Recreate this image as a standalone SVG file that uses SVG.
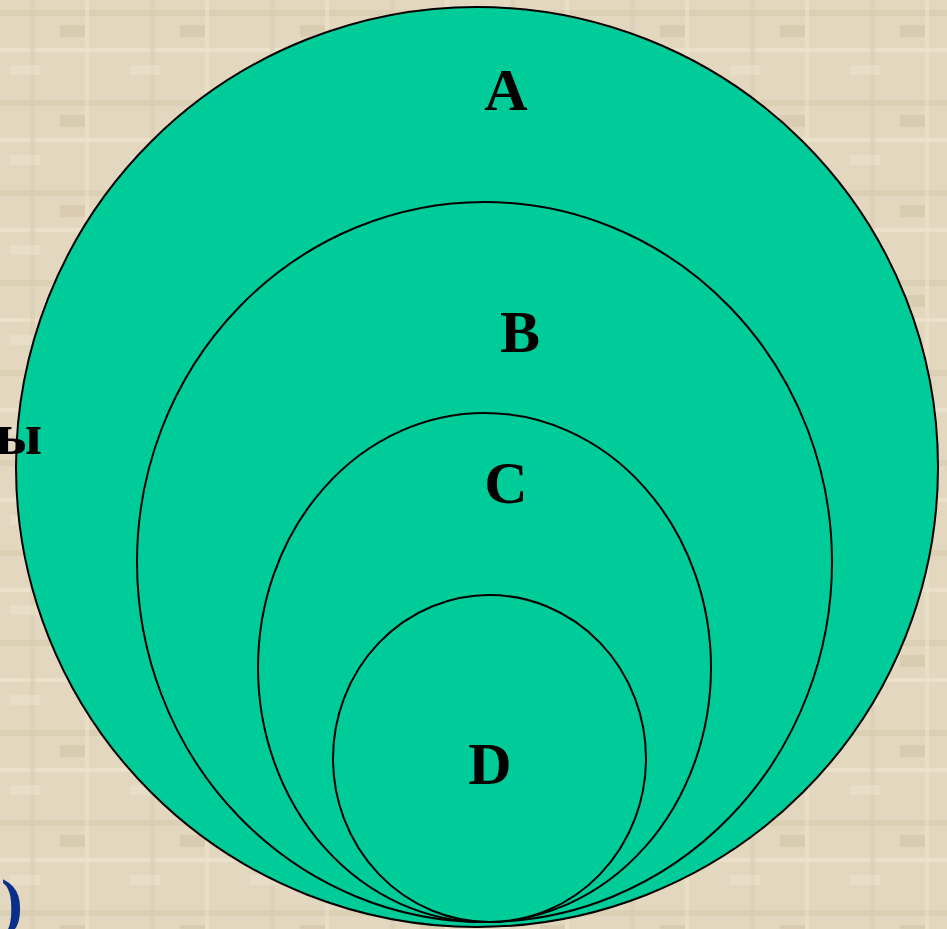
<svg xmlns="http://www.w3.org/2000/svg" width="947" height="929" viewBox="0 0 947 929">
<defs>
<pattern id="paper" x="0" y="0" width="120" height="90" patternUnits="userSpaceOnUse">
<rect width="120" height="90" fill="#e3d7bf"/>
<rect x="0" y="10" width="120" height="6" fill="#d6c9ae" opacity="0.6"/>
<rect x="0" y="48" width="120" height="4" fill="#eee4cf" opacity="0.7"/>
<rect x="30" y="0" width="5" height="90" fill="#d8cbb0" opacity="0.5"/>
<rect x="85" y="0" width="4" height="90" fill="#ece2cc" opacity="0.6"/>
<rect x="60" y="25" width="25" height="12" fill="#cfc1a4" opacity="0.5"/>
<rect x="10" y="65" width="30" height="10" fill="#ebe1cb" opacity="0.6"/>
</pattern>
<style>
.ring{fill:#00cc99;stroke:#000;stroke-width:2}
.lbl{font-family:"Liberation Serif","Times New Roman",serif;font-weight:bold;font-size:60px;fill:#000;text-anchor:middle}
</style>
</defs>
<rect width="947" height="929" fill="url(#paper)"/>
<g id="A"><ellipse class="ring" cx="477" cy="467" rx="461" ry="460"/><text class="lbl" x="506" y="110">A</text></g>
<g id="B"><ellipse class="ring" cx="484.5" cy="562" rx="347.5" ry="360"/><text class="lbl" x="520" y="352">B</text></g>
<g id="C"><ellipse class="ring" cx="484.5" cy="667.5" rx="226.5" ry="254.5"/><text class="lbl" x="506" y="503">C</text></g>
<g id="D"><ellipse class="ring" cx="489.5" cy="758.5" rx="156.5" ry="163.5"/><text class="lbl" x="490" y="784">D</text></g>
<text x="42" y="454" style="font-family:'Liberation Serif',serif;font-weight:bold;font-size:60px;fill:#000;text-anchor:end">ы</text>
<text x="1" y="925" style="font-family:'Liberation Serif',serif;font-weight:bold;font-size:66px;fill:#0a2f8a">)</text>
</svg>
